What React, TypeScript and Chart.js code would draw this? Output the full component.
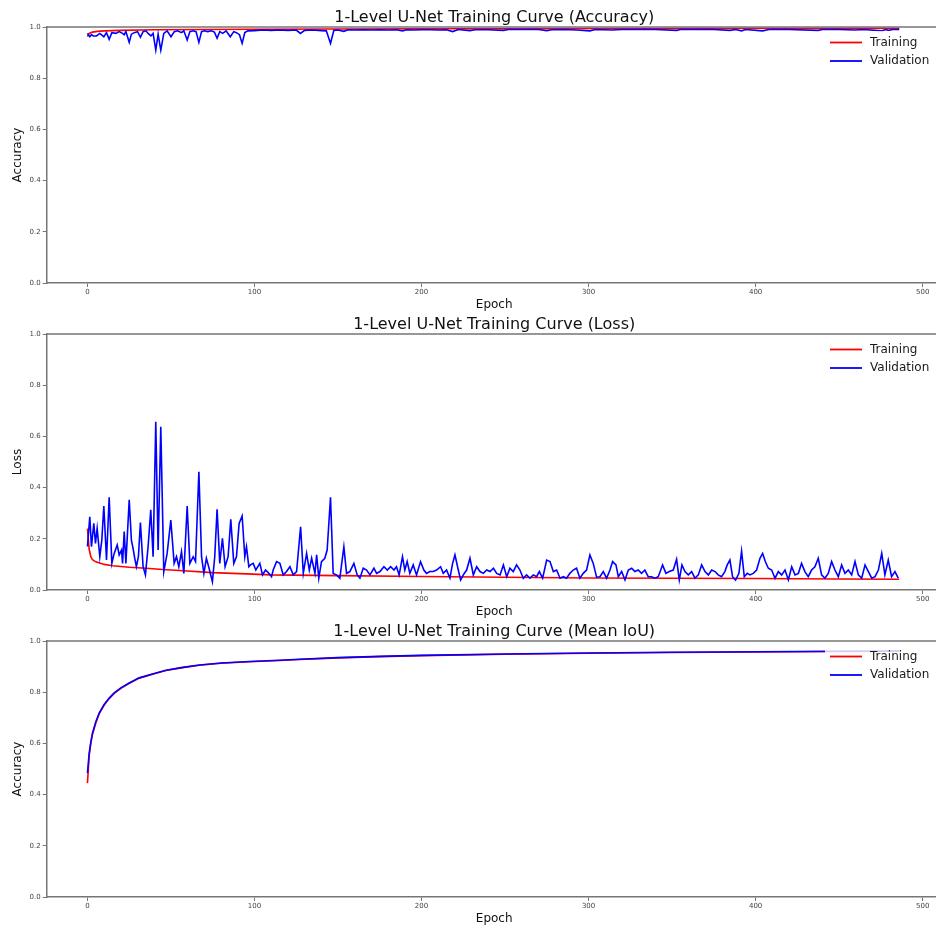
import React, { useEffect, useRef } from "react";
import { Chart, registerables } from "chart.js";

Chart.register(...registerables);

// ---------- axes ----------
const xTicks = [0, 100, 200, 300, 400, 500];
const yTicks = [0, 0.2, 0.4, 0.6, 0.8, 1.0];
const xMin = -24.4;
const xMax = 511.4;

// ---------- Accuracy ----------
const accTrain: [number, number][] = [
  [0, 0.962], [1, 0.975], [3, 0.98], [6, 0.983], [10, 0.985], [20, 0.987], [40, 0.989],
  [70, 0.99], [100, 0.991], [150, 0.992], [200, 0.993], [300, 0.994], [400, 0.995], [486, 0.995],
];
const accVal: [number, number][] = [
  [0, 0.975], [1.4, 0.962], [2.4, 0.97], [3.5, 0.965], [5.4, 0.965], [7.4, 0.975], [9.8, 0.962],
  [11.4, 0.978], [13, 0.952], [14.6, 0.978], [17, 0.975], [19, 0.982], [21, 0.975], [22, 0.97],
  [23, 0.982], [25, 0.94], [26.3, 0.972], [28, 0.978], [30, 0.982], [31.7, 0.96], [33.3, 0.982],
  [35, 0.985], [36.3, 0.975], [38, 0.965], [39.3, 0.975], [40.9, 0.91], [42.3, 0.972], [43.9, 0.91],
  [45.7, 0.975], [47.7, 0.985], [50, 0.962], [52, 0.982], [54, 0.985], [56.3, 0.978], [57.7, 0.985],
  [59.7, 0.949], [61.3, 0.982], [63.3, 0.985], [65, 0.982], [66.7, 0.94], [68.3, 0.982], [70, 0.985],
  [72, 0.982], [74, 0.985], [76, 0.98], [77.6, 0.956], [79.2, 0.982], [81, 0.975], [83, 0.985],
  [85.5, 0.962], [87.6, 0.982], [89.2, 0.978], [91, 0.97], [92.6, 0.936], [94.2, 0.978], [96, 0.985],
  [100, 0.986], [105, 0.988], [110, 0.987], [115, 0.988], [120, 0.987], [125, 0.988], [127.5, 0.975],
  [130, 0.987], [135, 0.988], [140, 0.986], [143, 0.985], [145.5, 0.936], [147.5, 0.987], [150, 0.988],
  [153.5, 0.983], [156, 0.989], [160, 0.988], [165, 0.989], [170, 0.988], [175, 0.989], [180, 0.988],
  [185, 0.989], [188.6, 0.985], [191, 0.989], [195, 0.988], [200, 0.989], [205, 0.989], [210, 0.988],
  [215, 0.989], [218.6, 0.982], [222, 0.99], [229, 0.986], [232, 0.989], [240, 0.989], [249, 0.987],
  [252, 0.99], [260, 0.99], [270, 0.99], [274.9, 0.986], [278, 0.989], [285, 0.99], [293, 0.988],
  [300.8, 0.985], [304, 0.99], [314, 0.988], [320, 0.99], [330, 0.99], [340, 0.99], [352.7, 0.987],
  [355, 0.99], [365, 0.99], [375, 0.99], [384.6, 0.987], [388, 0.99], [391.6, 0.985], [394, 0.99],
  [404.2, 0.985], [408, 0.99], [420, 0.99], [437.5, 0.987], [440, 0.99], [450, 0.99], [459.5, 0.988],
  [465, 0.99], [475.5, 0.985], [478, 0.99], [479.4, 0.987], [482, 0.99], [486, 0.99],
];

// ---------- Loss ----------
const lossTrain: [number, number][] = [
  [0, 0.24], [1, 0.16], [2, 0.13], [3, 0.118], [5, 0.11], [10, 0.1], [15, 0.095], [25, 0.089],
  [35, 0.085], [45, 0.08], [55, 0.076], [75, 0.068], [95, 0.063], [110, 0.059], [150, 0.056],
  [200, 0.053], [250, 0.05], [300, 0.047], [350, 0.046], [400, 0.045], [450, 0.043], [486, 0.042],
];
const lossVal: [number, number][] = [
  [0, 0.17], [1.4, 0.286], [2.4, 0.169], [3.8, 0.26], [4.8, 0.182], [5.8, 0.241], [7.4, 0.13],
  [8.6, 0.195], [9.8, 0.328], [11.4, 0.117], [13, 0.362], [14.6, 0.104], [16, 0.143], [17.8, 0.176],
  [19, 0.137], [20.4, 0.156], [21, 0.104], [22, 0.228], [23, 0.104], [25, 0.352], [26.3, 0.195],
  [27.3, 0.163], [28.3, 0.124], [29.3, 0.091], [30.5, 0.13], [31.7, 0.263], [33.3, 0.091],
  [34.7, 0.059], [36.3, 0.169], [37.9, 0.313], [39.3, 0.13], [40.9, 0.657], [42.3, 0.156],
  [43.9, 0.638], [45.7, 0.072], [47.7, 0.143], [49.9, 0.273], [51.9, 0.104], [53.3, 0.13],
  [54.7, 0.091], [56.3, 0.15], [57.7, 0.065], [59.7, 0.328], [61.3, 0.104], [63.3, 0.13],
  [64.7, 0.111], [66.7, 0.462], [68.3, 0.13], [69.7, 0.065], [71.2, 0.124], [72.8, 0.085],
  [74.8, 0.032], [76.2, 0.13], [77.6, 0.315], [79.2, 0.104], [80.8, 0.202], [82.4, 0.091],
  [84.2, 0.13], [85.8, 0.276], [87.6, 0.104], [89.2, 0.13], [90.8, 0.26], [92.6, 0.289],
  [94.2, 0.13], [95.2, 0.169], [96.6, 0.091], [97.6, 0.098], [99.2, 0.104], [100.8, 0.078],
  [103.2, 0.104], [104.8, 0.059], [106.6, 0.078], [108.2, 0.068], [110.2, 0.052],
  [111.2, 0.078], [113.2, 0.111], [115.2, 0.104], [117.2, 0.059], [119.2, 0.072], [121.2, 0.091],
  [123.2, 0.059], [125.2, 0.072], [127.6, 0.247], [129.2, 0.065], [131.2, 0.143], [132.8, 0.078],
  [134.2, 0.124], [136.2, 0.065], [137.2, 0.137], [138.5, 0.046], [140.1, 0.111], [142.1, 0.124],
  [143.5, 0.156], [145.5, 0.362], [147.1, 0.065], [149.1, 0.059], [151.1, 0.046], [153.5, 0.169],
  [155.1, 0.065], [157.1, 0.072], [159.5, 0.104], [161.5, 0.059], [163.1, 0.046], [165.1, 0.085],
  [167.1, 0.078], [169.1, 0.059], [171.5, 0.085], [173.1, 0.065], [175.1, 0.072], [177.5, 0.091],
  [179.5, 0.078], [181.5, 0.091], [183.5, 0.078], [185, 0.091], [186.6, 0.059], [188.6, 0.13],
  [190, 0.078], [191.4, 0.111], [193, 0.065], [195, 0.098], [197, 0.059], [199.4, 0.111],
  [201.4, 0.078], [203, 0.065], [205, 0.072], [207, 0.072], [209, 0.078], [211.4, 0.091],
  [213, 0.065], [215, 0.078], [217, 0.046], [218.6, 0.104], [220, 0.137], [222, 0.078],
  [223.4, 0.039], [225, 0.059], [227, 0.078], [229, 0.124], [231, 0.059], [233, 0.091],
  [235, 0.072], [237, 0.065], [239, 0.078], [241, 0.072], [243, 0.085], [245, 0.065], [247, 0.059],
  [249, 0.098], [251, 0.052], [252.9, 0.085], [254.9, 0.072], [256.9, 0.098], [258.9, 0.078],
  [260.9, 0.046], [262.9, 0.059], [264.9, 0.046], [266.9, 0.059], [268.9, 0.052], [270.5, 0.072],
  [272.5, 0.046], [274.9, 0.117], [276.9, 0.111], [278.9, 0.072], [280.9, 0.078], [282.9, 0.046],
  [284.9, 0.052], [286.8, 0.046], [288.8, 0.065], [290.8, 0.078], [292.8, 0.085], [294.8, 0.046],
  [296.8, 0.065], [298.8, 0.078], [300.8, 0.137], [302.8, 0.104], [304.8, 0.05], [306.8, 0.052],
  [308.8, 0.072], [310.8, 0.046], [312.8, 0.078], [314.4, 0.111], [316.4, 0.098], [317.8, 0.052],
  [319.8, 0.072], [321.8, 0.039], [323.8, 0.078], [325.8, 0.085], [327.7, 0.072], [329.7, 0.078],
  [331.7, 0.065], [333.7, 0.078], [335.7, 0.052], [337.7, 0.052], [339.7, 0.046], [341.7, 0.052],
  [344.3, 0.098], [346.3, 0.065], [348.3, 0.072], [350.7, 0.078], [352.7, 0.12], [354.3, 0.039],
  [355.9, 0.098], [357.7, 0.072], [359.7, 0.059], [361.7, 0.072], [363.7, 0.046], [365.7, 0.059],
  [367.7, 0.098], [369.7, 0.072], [371.7, 0.059], [373.7, 0.078], [375.7, 0.072], [377.6, 0.059],
  [379.6, 0.052], [381.6, 0.072], [383, 0.098], [384.6, 0.117], [386.2, 0.052], [388, 0.039],
  [390, 0.065], [391.6, 0.152], [393.2, 0.052], [395, 0.065], [396.6, 0.059], [398.6, 0.065],
  [400.6, 0.078], [402.6, 0.124], [404.2, 0.143], [405.8, 0.111], [407.6, 0.085], [409.6, 0.078],
  [411.6, 0.046], [413.6, 0.072], [415.6, 0.059], [417.6, 0.078], [419.6, 0.039], [421.6, 0.091],
  [423.6, 0.059], [425.6, 0.065], [427.5, 0.104], [429.5, 0.072], [431.5, 0.052], [433.5, 0.078],
  [435.5, 0.091], [437.5, 0.124], [439.5, 0.059], [441.5, 0.046], [443.5, 0.065], [445.5, 0.111],
  [447.5, 0.078], [449.5, 0.052], [451.5, 0.098], [453.5, 0.065], [455.5, 0.078], [457.5, 0.059],
  [459.5, 0.111], [461.5, 0.059], [463.5, 0.046], [465.5, 0.098], [467.5, 0.072], [469.5, 0.046],
  [471.5, 0.052], [473.5, 0.078], [475.5, 0.143], [477.4, 0.059], [479.4, 0.117], [481.4, 0.052],
  [483.4, 0.072], [485.4, 0.046],
];

// ---------- Mean IoU ----------
const iouTrain: [number, number][] = [
  [0, 0.445], [1, 0.55], [2, 0.6], [3, 0.635], [5, 0.68], [7, 0.715], [10, 0.75], [13, 0.775],
  [16, 0.795], [20, 0.815], [25, 0.835], [31, 0.855], [40, 0.872], [47, 0.885], [57, 0.896],
  [67, 0.905], [80, 0.913], [97, 0.919], [115, 0.924], [127, 0.928], [150, 0.934], [175, 0.939],
  [200, 0.943], [250, 0.948], [300, 0.952], [350, 0.955], [400, 0.957], [450, 0.959], [486, 0.96],
];
const iouVal: [number, number][] = [
  [0, 0.484], [1, 0.56], [2, 0.605], [3, 0.64], [5, 0.685], [7, 0.718], [10, 0.752], [13, 0.777],
  [16, 0.797], [20, 0.817], [25, 0.836], [31, 0.856], [40, 0.873], [47, 0.886], [57, 0.897],
  [67, 0.906], [80, 0.914], [97, 0.92], [115, 0.925], [127, 0.929], [150, 0.935], [175, 0.94],
  [200, 0.944], [250, 0.949], [300, 0.953], [350, 0.956], [400, 0.958], [450, 0.96], [486, 0.961],
];

const FONT = "'DejaVu Sans', sans-serif";
const SPINE = "#767676";
const TICKTXT = "#444";
const CANVAS_W = 944;
const CANVAS_H = 322;
const PANEL_STEP = 307;

const decorPlugin = {
  id: "decor",
  afterDatasetsDraw(chart: any) {
    const { ctx, chartArea } = chart;
    const top = chartArea.top;
    ctx.save();
    ctx.fillStyle = "rgba(255,255,255,0.8)";
    ctx.fillRect(825, top + 4, 120, 40);
    const items = [
      { label: "Training", color: "#ff0000", dy: 15.5 },
      { label: "Validation", color: "#0000ff", dy: 34 },
    ];
    ctx.font = `12px ${FONT}`;
    ctx.textBaseline = "middle";
    ctx.textAlign = "left";
    for (const it of items) {
      ctx.strokeStyle = it.color;
      ctx.lineWidth = 1.8;
      ctx.beginPath();
      ctx.moveTo(830, top + it.dy);
      ctx.lineTo(862, top + it.dy);
      ctx.stroke();
      ctx.fillStyle = "#1a1a1a";
      ctx.fillText(it.label, 870, top + it.dy);
    }
    ctx.restore();
  },
  afterDraw(chart: any, _args: any, opts: any) {
    const { ctx, chartArea } = chart;
    ctx.save();
    ctx.strokeStyle = SPINE;
    ctx.lineWidth = 1.5;
    ctx.beginPath();
    ctx.moveTo(chartArea.left, chartArea.top);
    ctx.lineTo(chartArea.right, chartArea.top);
    ctx.lineTo(chartArea.right, chartArea.bottom);
    ctx.stroke();
    ctx.font = `16px ${FONT}`;
    ctx.fillStyle = "#111";
    ctx.textAlign = "center";
    ctx.textBaseline = "middle";
    ctx.fillText(opts.title, (chartArea.left + chartArea.right) / 2, 18);
    ctx.restore();
  },
};

function makeConfig(title: string, yLabel: string, train: [number, number][], val: [number, number][]): any {
  return {
    type: "line",
    data: {
      datasets: [
        {
          label: "Validation",
          data: val.map(([x, y]) => ({ x, y })),
          borderColor: "#0000ff",
          borderWidth: 1.6,
          pointRadius: 0,
          tension: 0,
          fill: false,
          order: 1,
        },
        {
          label: "Training",
          data: train.map(([x, y]) => ({ x, y })),
          borderColor: "#ff0000",
          borderWidth: 1.6,
          pointRadius: 0,
          tension: 0,
          fill: false,
          order: 2,
        },
      ],
    },
    options: {
      animation: false,
      responsive: false,
      devicePixelRatio: 1,
      layout: { padding: { top: 27, left: 0, right: CANVAS_W - 941.7, bottom: CANVAS_H - 307 } },
      plugins: {
        legend: { display: false },
        title: { display: false },
        tooltip: { enabled: false },
        decor: { title },
      },
      scales: {
        x: {
          type: "linear",
          min: xMin,
          max: xMax,
          afterFit: (s: any) => { s.height = 24; },
          afterBuildTicks: (s: any) => { s.ticks = xTicks.map((v) => ({ value: v })); },
          ticks: {
            font: { size: 7, family: FONT },
            color: TICKTXT,
            padding: 1,
            maxRotation: 0,
            autoSkip: false,
            callback: (v: any) => String(v),
          },
          grid: { drawOnChartArea: false, drawTicks: true, tickLength: 4, color: SPINE, lineWidth: 1 },
          border: { display: true, color: SPINE, width: 1.5 },
          title: {
            display: true,
            text: "Epoch",
            color: "#111",
            font: { size: 12, family: FONT, lineHeight: 0.33 },
            padding: 0,
          },
        },
        y: {
          type: "linear",
          min: 0,
          max: 1,
          afterFit: (s: any) => { s.width = 46.7; },
          afterBuildTicks: (s: any) => { s.ticks = yTicks.map((v) => ({ value: v })); },
          ticks: {
            font: { size: 7, family: FONT },
            color: TICKTXT,
            padding: 2,
            autoSkip: false,
            callback: (v: any) => Number(v).toFixed(1),
          },
          grid: { drawOnChartArea: false, drawTicks: true, tickLength: 4, color: SPINE, lineWidth: 1 },
          border: { display: true, color: SPINE, width: 1.5 },
          title: {
            display: true,
            text: yLabel,
            color: "#111",
            font: { size: 12, family: FONT },
            padding: { top: 11, bottom: 0 },
          },
        },
      },
    },
    plugins: [decorPlugin],
  };
}

function Panel(props: { top: number; title: string; yLabel: string; train: [number, number][]; val: [number, number][] }) {
  const ref = useRef<HTMLCanvasElement | null>(null);
  useEffect(() => {
    if (!ref.current) return;
    const chart = new Chart(ref.current, makeConfig(props.title, props.yLabel, props.train, props.val));
    return () => chart.destroy();
  }, []);
  return (
    <canvas
      ref={ref}
      width={CANVAS_W}
      height={CANVAS_H}
      style={{ position: "absolute", left: 0, top: props.top, width: CANVAS_W, height: CANVAS_H, display: "block" }}
    />
  );
}

export default function App() {
  return (
    <div
      style={{
        position: "fixed",
        left: 0,
        top: 0,
        width: 936,
        height: 931,
        overflow: "hidden",
        background: "#fff",
      }}
    >
      <Panel top={0} title="1-Level U-Net Training Curve (Accuracy)" yLabel="Accuracy" train={accTrain} val={accVal} />
      <Panel top={PANEL_STEP} title="1-Level U-Net Training Curve (Loss)" yLabel="Loss" train={lossTrain} val={lossVal} />
      <Panel top={PANEL_STEP * 2} title="1-Level U-Net Training Curve (Mean IoU)" yLabel="Accuracy" train={iouTrain} val={iouVal} />
    </div>
  );
}
